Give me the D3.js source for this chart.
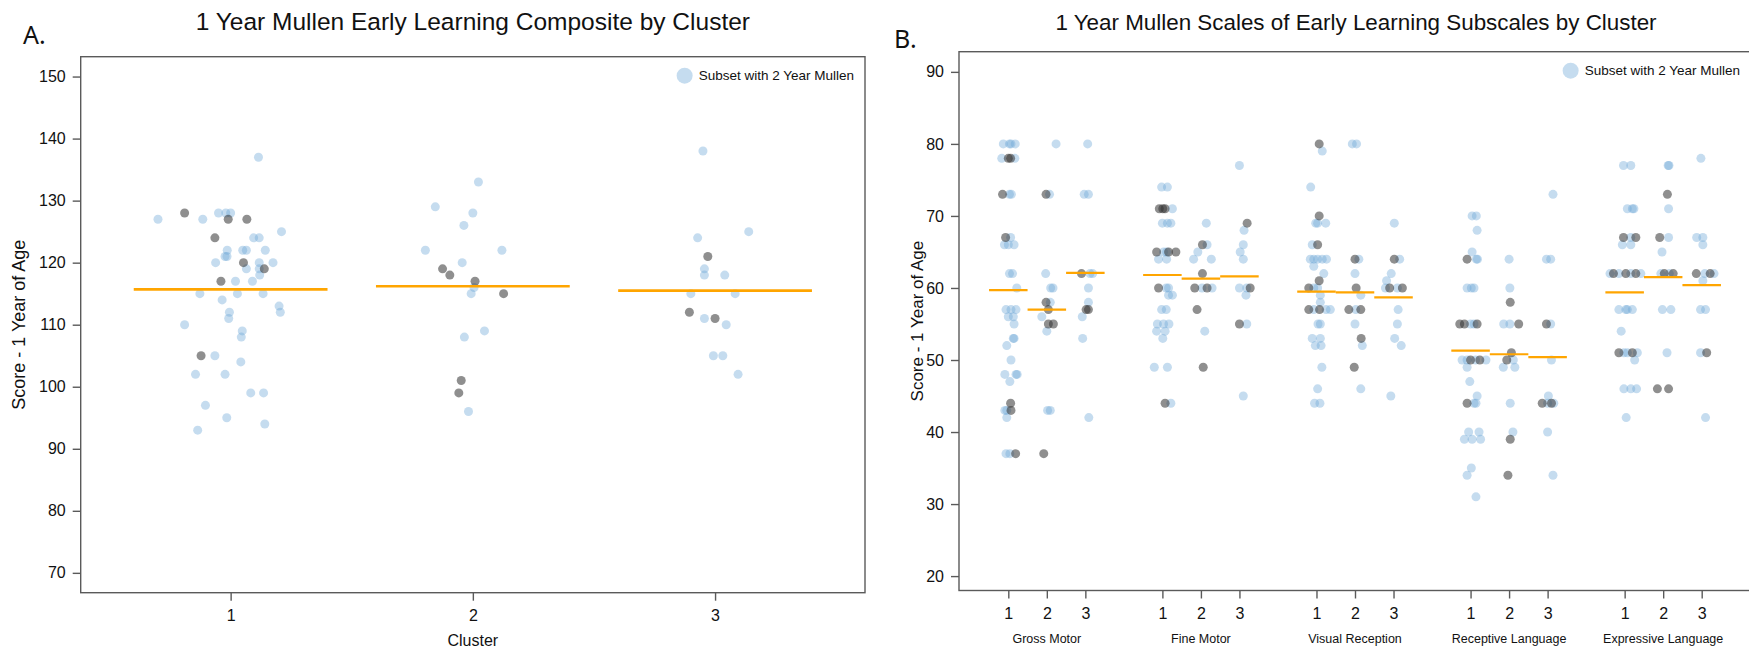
<!DOCTYPE html>
<html>
<head>
<meta charset="utf-8">
<script src="https://cdn.jsdelivr.net/npm/d3@7"></script>
<style>
  body { margin: 0; background: #fff; }
  svg { display: block; font-family: "Liberation Sans", Arial, sans-serif; }
  .tick text { fill: #111; }
</style>
</head>
<body>
<svg width="1749" height="649"></svg>
<script>
// ---- panel A: composite score by cluster, [value, jitter] ----
var clusters = [1, 2, 3];
var compositeMeans = [115.7, 116.2, 115.5];

var compLight1 = [[127,-0.30],[127,-0.115],[128,-0.05],[128,-0.02],[128,0.0],[124,0.095],[124,0.118],[125,0.21],
  [122,-0.014],[122,0.05],[122,0.065],[122,0.143],[121,-0.023],[121,-0.015],[120,-0.062],[120,0.118],[120,0.175],
  [119,0.065],[119,0.118],[118,0.12],[117,0.02],[117,0.09],[137,0.115],[115,-0.127],[115,0.028],[115,0.134],
  [114,-0.035],[113,0.2],[112,0.205],[112,-0.005],[111,-0.008],[110,-0.19],[109,0.048],[108,0.044],[105,-0.065],
  [104,0.042],[102,-0.145],[102,-0.023],[99,0.083],[99,0.136],[97,-0.104],[95,-0.016],[93,-0.136],[94,0.141]];
var compDark1 = [[128,-0.19],[127,-0.01],[127,0.067],[124,-0.065],[120,0.053],[119,0.139],[117,-0.04],[105,-0.122]];
var compLight2 = [[133,0.023],[129,-0.155],[128,0],[126,-0.037],[122,-0.196],[122,0.12],[120,-0.044],[116,0.005],
  [115,-0.007],[109,0.048],[108,-0.035],[96,-0.018]];
var compDark2 = [[119,-0.125],[118,-0.095],[117,0.009],[115,0.127],[101,-0.048],[99,-0.058]];
var compLight3 = [[138,-0.05],[125,0.139],[124,-0.072],[119,-0.044],[118,-0.044],[118,0.04],[115,-0.1],[115,0.083],
  [111,-0.044],[110,0.046],[105,-0.007],[105,0.032],[102,0.095]];
var compDark3 = [[121,-0.03],[112,-0.106],[111,0]];

// ---- panel B: subscales, [cluster, value, jitter] ----
var subscales = ["Gross Motor", "Fine Motor", "Visual Reception", "Receptive Language", "Expressive Language"];
var subscaleMeans = [[59.7, 57.0, 62.1], [61.8, 61.3, 61.6], [59.5, 59.4, 58.7], [51.3, 50.8, 50.4], [59.4, 61.5, 60.4]];

var grossLight = [[1,80,-0.13],[1,80,0.03],[1,80,0.07],[1,80,0.18],[1,78,-0.17],[1,78,0.17],[1,73,0.03],[1,73,0.08],
  [1,67,0.06],[1,66,-0.1],[1,66,0.0],[1,66,0.15],[1,62,0.03],[1,62,0.11],[1,60,0.22],[1,57,-0.06],[1,57,0.07],
  [1,57,0.2],[1,56,0],[1,56,0.13],[1,55,0.15],[1,53,0.13],[1,53,0.15],[1,52,-0.04],[1,50,0.07],[1,48,-0.09],
  [1,48,0.2],[1,48,0.23],[1,47,0.04],[1,43,-0.09],[1,43,-0.04],[1,42,-0.04],[1,37,-0.06],[1,37,0.04],
  [2,80,0.24],[2,73,0.07],[2,62,-0.03],[2,60,0.1],[2,60,0.16],[2,58,0.09],[2,56,-0.13],[2,54,0],[2,43,0.02],[2,43,0.09],
  [3,80,0.06],[3,73,-0.03],[3,73,0.08],[3,62,0.12],[3,62,0.19],[3,60,0.08],[3,58,0.08],[3,56,-0.08],[3,53,-0.07],[3,42,0.09]];
var grossDark = [[1,78,0],[1,78,0.06],[1,73,-0.15],[1,67,-0.07],[1,44,0.06],[1,43,0.07],[1,37,0.19],
  [2,73,-0.02],[2,58,-0.02],[2,57,0.04],[2,55,0.04],[2,55,0.17],[2,37,-0.08],[3,62,-0.1],[3,57,0.02],[3,57,0.08]];

var fineLight = [[1,74,-0.02],[1,74,0.13],[1,71,0.26],[1,69,0],[1,69,0.13],[1,69,0.22],[1,65,0.03],[1,65,0.11],
  [1,64,-0.1],[1,64,0.11],[1,60,0.1],[1,60,0.16],[1,59,0.16],[1,59,0.26],[1,57,-0.02],[1,57,0.1],[1,55,-0.13],
  [1,55,0.03],[1,55,0.17],[1,54,-0.15],[1,54,0.07],[1,53,0.01],[1,49,-0.21],[1,49,0.13],[1,44,0.22],
  [2,69,0.14],[2,66,0.16],[2,65,-0.08],[2,64,-0.19],[2,64,0.27],[2,60,0.03],[2,60,0.29],[2,54,0.1],
  [3,77,0],[3,68,0.12],[3,66,0.1],[3,65,0.02],[3,64,0.1],[3,60,0],[3,60,0.19],[3,59,0.17],[3,55,0.19],[3,45,0.1]];
var fineDark = [[1,71,-0.08],[1,71,0.01],[1,71,0.07],[1,65,-0.15],[1,65,0.16],[1,65,0.35],[1,60,-0.1],[1,44,0.07],
  [2,66,0.04],[2,62,0.04],[2,60,-0.16],[2,60,0.16],[2,57,-0.1],[2,49,0.06],[3,69,0.2],[3,60,0.28],[3,55,0]];

var visualLight = [[1,79,0.15],[1,74,-0.15],[1,69,-0.02],[1,69,0.03],[1,69,0.24],[1,66,-0.11],[1,64,-0.16],
  [1,64,-0.07],[1,64,0.03],[1,64,0.15],[1,64,0.26],[1,63,-0.07],[1,62,0.19],[1,60,-0.07],[1,60,0.03],[1,59,0.1],
  [1,58,0.1],[1,57,-0.07],[1,57,0.25],[1,57,0.36],[1,55,0.04],[1,55,0.1],[1,53,-0.11],[1,53,0.1],[1,52,-0.03],
  [1,52,0.12],[1,49,0.14],[1,46,0.03],[1,44,-0.05],[1,44,0.09],
  [2,80,-0.07],[2,80,0.04],[2,64,0.1],[2,62,0],[2,59,0.15],[2,57,0.02],[2,55,0],[2,52,0.19],[2,46,0.15],
  [3,69,0.02],[3,64,0.16],[3,62,-0.06],[3,61,-0.18],[3,60,-0.21],[3,60,0.1],[3,57,0.12],[3,55,0.1],[3,53,0.03],
  [3,52,0.2],[3,45,-0.07]];
var visualDark = [[1,80,0.07],[1,70,0.07],[1,66,0.03],[1,61,0.07],[1,60,-0.2],[1,57,-0.2],[1,57,0.08],
  [2,64,0],[2,60,0.03],[2,57,-0.16],[2,57,0.15],[2,53,0.16],[2,49,-0.02],[3,64,0.02],[3,60,-0.1],[3,60,0.23]];

var receptiveLight = [[1,70,0.04],[1,70,0.15],[1,68,0.17],[1,65,0.04],[1,64,0.15],[1,64,0.18],[1,60,-0.09],
  [1,60,0.02],[1,60,0.09],[1,55,0],[1,55,0.09],[1,50,-0.22],[1,50,-0.09],[1,50,0.13],[1,50,0.4],[1,49,-0.09],
  [1,47,-0.02],[1,45,0.17],[1,44,0.09],[1,44,0.14],[1,40,-0.05],[1,40,0.22],[1,39,-0.16],[1,39,0.04],[1,39,0.26],
  [1,35,0.02],[1,34,-0.09],[1,31,0.14],
  [2,64,0],[2,60,0.02],[2,55,-0.14],[2,55,0.02],[2,50,0.11],[2,49,-0.15],[2,49,0.15],[2,44,0.03],[2,40,0.1],
  [3,73,0.14],[3,64,-0.03],[3,64,0.08],[3,55,0.08],[3,50,0.1],[3,45,0.02],[3,44,0],[3,44,0.16],[3,40,0],[3,34,0.14]];
var receptiveDark = [[1,64,-0.09],[1,55,-0.28],[1,55,-0.16],[1,55,0.17],[1,50,0],[1,50,0.24],[1,44,-0.09],
  [2,58,0.03],[2,55,0.25],[2,51,0.06],[2,50,-0.06],[2,39,0.03],[2,34,-0.03],[3,55,-0.03],[3,44,-0.14],[3,44,0.1]];

var expressiveLight = [[1,77,-0.03],[1,77,0.16],[1,71,0.07],[1,71,0.2],[1,71,0.24],[1,67,0.16],[1,66,-0.06],
  [1,66,0.16],[1,62,-0.38],[1,62,-0.15],[1,62,0.16],[1,62,0.42],[1,57,-0.15],[1,57,0.03],[1,57,0.07],[1,57,0.2],
  [1,54,-0.09],[1,51,-0.02],[1,51,0.07],[1,51,0.33],[1,50,0.26],[1,46,-0.02],[1,46,0.16],[1,46,0.31],[1,42,0.04],
  [2,77,0.13],[2,77,0.15],[2,71,0.14],[2,67,0.14],[2,65,-0.03],[2,62,-0.06],[2,62,0.16],[2,57,-0.02],[2,57,0.2],[2,51,0.1],
  [3,78,-0.02],[3,67,-0.13],[3,67,0.03],[3,66,0.03],[3,62,0.08],[3,62,0.32],[3,61,0.03],[3,57,-0.03],[3,57,0.1],
  [3,51,-0.03],[3,42,0.1]];
var expressiveDark = [[1,67,-0.03],[1,67,0.29],[1,62,-0.29],[1,62,0.03],[1,62,0.29],[1,51,-0.15],[1,51,0.2],
  [2,73,0.11],[2,67,-0.09],[2,62,0.03],[2,62,0.26],[2,46,-0.15],[2,46,0.14],[3,62,-0.14],[3,62,0.22],[3,51,0.13]];

var ticksA = [70, 80, 90, 100, 110, 120, 130, 140, 150];
var ticksB = [20, 30, 40, 50, 60, 70, 80, 90];

var lightCol = "#6fa8d6", darkCol = "#333333", meanCol = "#ffa500", axisCol = "#5a5a5a";
var R = 4.5;

var svg = d3.select("svg");

// ---------------- panel A ----------------
var A = { left: 80.7, right: 865, top: 56.7, bottom: 592.7 };
var xA = d3.scaleLinear().domain([0.381, 3.619]).range([A.left, A.right]);
var yA = d3.scaleLinear().domain([66.8, 153.2]).range([A.bottom, A.top]);

var gA = svg.append("g");

var lightA = [compLight1, compLight2, compLight3];
var darkA = [compDark1, compDark2, compDark3];

function addPoints(g, pts, xf, yf, col, op) {
    g.selectAll(null).data(pts).enter().append("circle")
        .attr("cx", xf).attr("cy", yf).attr("r", R)
        .attr("fill", col).attr("fill-opacity", op);
}

clusters.forEach(function (c, i) {
    addPoints(gA, lightA[i], function (d) { return xA(c + d[1]); }, function (d) { return yA(d[0]); }, lightCol, 0.4);
});
clusters.forEach(function (c, i) {
    addPoints(gA, darkA[i], function (d) { return xA(c + d[1]); }, function (d) { return yA(d[0]); }, darkCol, 0.55);
});

gA.selectAll("line.mean").data(compositeMeans).enter().append("line")
    .attr("x1", function (d, i) { return xA(clusters[i] - 0.4); })
    .attr("x2", function (d, i) { return xA(clusters[i] + 0.4); })
    .attr("y1", function (d) { return yA(d); })
    .attr("y2", function (d) { return yA(d); })
    .attr("stroke", meanCol).attr("stroke-width", 2.6);

gA.append("rect")
    .attr("x", A.left).attr("y", A.top)
    .attr("width", A.right - A.left).attr("height", A.bottom - A.top)
    .attr("fill", "none").attr("stroke", axisCol).attr("stroke-width", 1.4);

gA.append("g").attr("transform", "translate(" + A.left + ",0)")
    .call(d3.axisLeft(yA).tickValues(ticksA).tickSize(8).tickPadding(7));
gA.append("g").attr("transform", "translate(0," + A.bottom + ")")
    .call(d3.axisBottom(xA).tickValues(clusters).tickFormat(d3.format("d")).tickSize(8).tickPadding(9));

gA.append("text").attr("x", (A.left + A.right) / 2).attr("y", 646)
    .attr("text-anchor", "middle").attr("font-size", 16).attr("fill", "#111").text("Cluster");

gA.append("text").attr("transform", "translate(25," + (A.top + A.bottom) / 2 + ") rotate(-90)")
    .attr("text-anchor", "middle").attr("font-size", 18).attr("fill", "#111").text("Score - 1 Year of Age");

gA.append("text").attr("x", (A.left + A.right) / 2).attr("y", 30)
    .attr("text-anchor", "middle").attr("font-size", 24.5).attr("fill", "#111")
    .text("1 Year Mullen Early Learning Composite by Cluster");

gA.append("text").attr("x", 23).attr("y", 44).attr("font-family", "'Noto Sans', sans-serif")
    .attr("font-size", 25).attr("fill", "#111").text("A.");

// ---------------- panel B ----------------
var B = { left: 959, right: 1751, top: 51.7, bottom: 590.5 };
var xB = d3.scaleLinear().domain([-0.28, 20.28]).range([B.left, B.right]);
var yB = d3.scaleLinear().domain([18, 92.8]).range([B.bottom, B.top]);

var gB = svg.append("g");
var lightB = [grossLight, fineLight, visualLight, receptiveLight, expressiveLight];
var darkB = [grossDark, fineDark, visualDark, receptiveDark, expressiveDark];

function posB(g, c) { return g * 4 + c; }

lightB.forEach(function (pts, g) {
    addPoints(gB, pts, function (d) { return xB(posB(g, d[0]) + d[2]); }, function (d) { return yB(d[1]); }, lightCol, 0.4);
});
darkB.forEach(function (pts, g) {
    addPoints(gB, pts, function (d) { return xB(posB(g, d[0]) + d[2]); }, function (d) { return yB(d[1]); }, darkCol, 0.55);
});

subscaleMeans.forEach(function (ms, g) {
    gB.selectAll(null).data(ms).enter().append("line")
        .attr("x1", function (d, i) { return xB(posB(g, i + 1) - 0.5); })
        .attr("x2", function (d, i) { return xB(posB(g, i + 1) + 0.5); })
        .attr("y1", function (d) { return yB(d); })
        .attr("y2", function (d) { return yB(d); })
        .attr("stroke", meanCol).attr("stroke-width", 2.2);
});

gB.append("rect")
    .attr("x", B.left).attr("y", B.top)
    .attr("width", B.right - B.left).attr("height", B.bottom - B.top)
    .attr("fill", "none").attr("stroke", axisCol).attr("stroke-width", 1.4);

gB.append("g").attr("transform", "translate(" + B.left + ",0)")
    .call(d3.axisLeft(yB).tickValues(ticksB).tickSize(8).tickPadding(7));

var tickPosB = [], tickLabB = [];
subscales.forEach(function (s, g) {
    clusters.forEach(function (c) { tickPosB.push(posB(g, c)); tickLabB.push(c); });
});
gB.append("g").attr("transform", "translate(0," + B.bottom + ")")
    .call(d3.axisBottom(xB).tickValues(tickPosB)
        .tickFormat(function (d, i) { return tickLabB[i]; })
        .tickSize(8).tickPadding(9));

gB.selectAll("text.group").data(subscales).enter().append("text")
    .attr("x", function (d, g) { return xB(posB(g, 2)); })
    .attr("y", 643).attr("text-anchor", "middle").attr("font-size", 12.5).attr("fill", "#111")
    .text(function (d) { return d; });

gB.append("text").attr("transform", "translate(923," + (B.top + B.bottom) / 2 + ") rotate(-90)")
    .attr("text-anchor", "middle").attr("font-size", 17).attr("fill", "#111").text("Score - 1 Year of Age");

gB.append("text").attr("x", 1356).attr("y", 30)
    .attr("text-anchor", "middle").attr("font-size", 22.4).attr("fill", "#111")
    .text("1 Year Mullen Scales of Early Learning Subscales by Cluster");

gB.append("text").attr("x", 894).attr("y", 48).attr("font-family", "'Noto Sans', sans-serif")
    .attr("font-size", 25).attr("fill", "#111").text("B.");

// axis styling
svg.selectAll(".domain").remove();
svg.selectAll(".tick line").attr("stroke", axisCol).attr("stroke-width", 1.4);
svg.selectAll(".tick text").attr("font-size", 16).attr("font-family", "'Liberation Sans', Arial, sans-serif");

// legends
[{ right: A.right - 11, top: A.top }, { right: 1740, top: B.top }].forEach(function (p) {
    var t = svg.append("text").attr("x", p.right).attr("y", p.top + 23.5)
        .attr("text-anchor", "end").attr("font-size", 13.5).attr("fill", "#111")
        .text("Subset with 2 Year Mullen");
    var w = t.node().getComputedTextLength();
    svg.append("circle").attr("cx", p.right - w - 14).attr("cy", p.top + 19)
        .attr("r", 8).attr("fill", lightCol).attr("fill-opacity", 0.4);
});
</script>
</body>
</html>
